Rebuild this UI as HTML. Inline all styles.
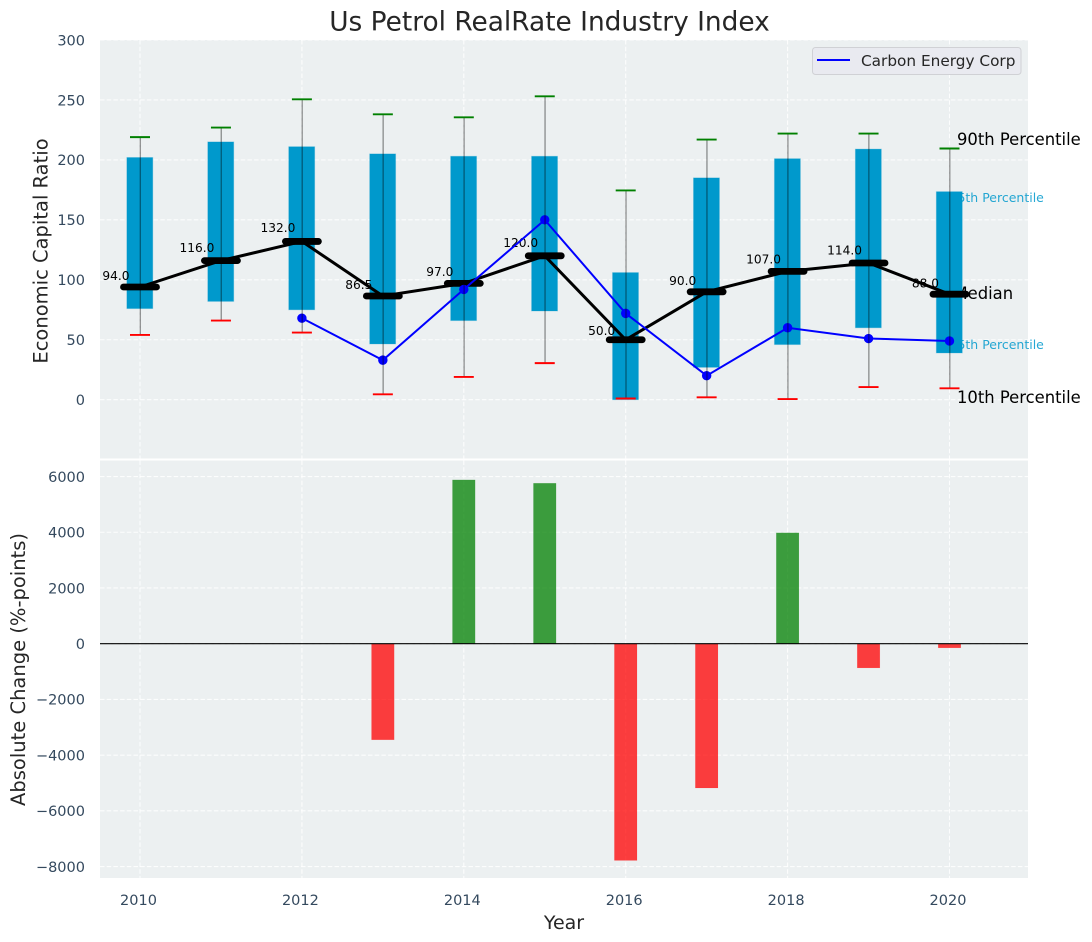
<!DOCTYPE html>
<html>
<head>
<meta charset="utf-8">
<title>Us Petrol RealRate Industry Index</title>
<style>
html,body{margin:0;padding:0;background:#fff;}
svg{display:block;font-family:"DejaVu Sans","Liberation Sans",sans-serif;}
</style>
</head>
<body>
<svg id="chart" width="1092" height="942" viewBox="0 0 1092 942" xmlns="http://www.w3.org/2000/svg">
  <rect x="100" y="40" width="928" height="418.5" fill="#ecf0f1"/>
  <rect x="100" y="460.5" width="928" height="417.5" fill="#ecf0f1"/>
  <g id="grid"></g>
  <g id="annotBack">
    <text x="949.5" y="202" font-size="12.5" fill="#0099cc" fill-opacity="0.85">75th Percentile</text>
    <text x="949.5" y="349" font-size="12.5" fill="#0099cc" fill-opacity="0.85">25th Percentile</text>
    <text x="957" y="145" font-size="16.4" fill="#000">90th Percentile</text>
    <text x="957" y="403" font-size="16.4" fill="#000">10th Percentile</text>
    <text x="953.5" y="299" font-size="16.4" fill="#000">Median</text>
  </g>
  <g id="marks"></g>
  <g id="axes"></g>
  <text x="549.5" y="30.5" text-anchor="middle" font-size="26.4" fill="#262626">Us Petrol RealRate Industry Index</text>
  <text transform="translate(47.5,251) rotate(-90)" text-anchor="middle" font-size="19.5" fill="#262626">Economic Capital Ratio</text>
  <text transform="translate(25,669.5) rotate(-90)" text-anchor="middle" font-size="19.5" fill="#262626">Absolute Change (%-points)</text>
  <text x="564" y="929" text-anchor="middle" font-size="19" fill="#262626">Year</text>
  <g>
    <rect x="812.5" y="47.5" width="208.5" height="27" rx="3" fill="#e9eaf0" stroke="#d0d1d5" stroke-width="1"/>
    <line x1="817" y1="60" x2="850" y2="60" stroke="#0000ff" stroke-width="2"/>
    <text x="861" y="66" font-size="15.3" fill="#262626">Carbon Energy Corp</text>
  </g>
</svg>
<script>
const years = [2010,2011,2012,2013,2014,2015,2016,2017,2018,2019,2020];
const p90 = [219,227,250.5,238,235.5,253,174.5,217,222,222,209.5];
const p10 = [54,66,56,4.5,19,30.5,1,2,0.5,10.5,9.5];
const p75 = [202,215,211,205,203,203,106,185,201,209,173.5];
const p25 = [76,82,75,46.5,66,74,0,27,46,60,39];
const medians = [94,116,132,86.5,97,120,50,90,107,114,88];
const medianLabels = ["94.0","116.0","132.0","86.5","97.0","120.0","50.0","90.0","107.0","114.0","88.0"];
const carbon = [null,null,68,33,92,150,72,20,60,51,49];
const changes = [null,null,null,-3450,5880,5760,-7780,-5180,3980,-870,-150];
const xTicks = [2010,2012,2014,2016,2018,2020];
const upperTicks = [0,50,100,150,200,250,300];
const lowerTicks = [-8000,-6000,-4000,-2000,0,2000,4000,6000];

const NS = 'http://www.w3.org/2000/svg';
const x = v => 140 + (v - 2010) * 80.95;
const yU = v => 399.7 - v * 1.199;
const yL = v => 643.7 - v * 0.02786;
const w = yrs => yrs * 80.95;

function make(parent, tag, attrs, text) {
  const el = document.createElementNS(NS, tag);
  for (const k in attrs) el.setAttribute(k, attrs[k]);
  if (text !== undefined) el.textContent = text;
  parent.appendChild(el);
  return el;
}
const grid = document.getElementById('grid');
const marks = document.getElementById('marks');
const axes = document.getElementById('axes');
const gridStyle = {stroke:'#ffffff','stroke-width':1.1,'stroke-dasharray':'4.5 2.2','stroke-opacity':0.85};

xTicks.forEach(t => {
  const a = make(grid,'line',{x1:x(t),x2:x(t),y1:40,y2:458.5,...gridStyle});
  
  
  const b = make(grid,'line',{x1:x(t),x2:x(t),y1:460.5,y2:878,...gridStyle});
  
  
  const l = make(axes,'text',{x:x(t)-1.5,y:905,'text-anchor':'middle','font-size':14.5,fill:'#34495e'},String(t));
  
  
});
upperTicks.forEach(t => {
  const a = make(grid,'line',{x1:100,x2:1028,y1:yU(t),y2:yU(t),...gridStyle});
  
  
  const l = make(axes,'text',{x:85,y:yU(t)+5.3,'text-anchor':'end','font-size':14.5,fill:'#34495e'},String(t));
  
  
});
lowerTicks.forEach(t => {
  const a = make(grid,'line',{x1:100,x2:1028,y1:yL(t),y2:yL(t),...gridStyle});
  
  
  const l = make(axes,'text',{x:85,y:yL(t)+5.3,'text-anchor':'end','font-size':14.5,fill:'#34495e'},String(t).replace('-','\u2212'));
  
  
});

// interquartile boxes
years.forEach((yr,i) => {
  const r = make(marks,'rect',{x:x(yr)-w(0.16)-0.2,y:yU(p75[i]),width:w(0.32),height:yU(p25[i])-yU(p75[i]),fill:'#0099cc',stroke:'#0099cc','stroke-opacity':0.25,'stroke-width':1});
  
  
});

// median value labels: above the boxes, below the median line
years.forEach((yr,i) => {
  const t = make(marks,'text',{x:x(yr)-24,y:yU(medians[i]*1.05)-1.6,'text-anchor':'middle','font-size':12.2,fill:'#000'},medianLabels[i]);
  
  
});

// median connecting line
const medianPath = make(marks,'polyline',{points:years.map((yr,i)=>x(yr)+','+yU(medians[i])).join(' '),fill:'none',stroke:'#000','stroke-width':3});



years.forEach((yr,i) => {
  const m = make(marks,'line',{x1:x(yr)-16.5,x2:x(yr)+16.5,y1:yU(medians[i]),y2:yU(medians[i]),stroke:'#000','stroke-width':6.8,'stroke-linecap':'round'});
  
  
});

// carbon energy series
const carbonPts = years.map((yr,i)=>carbon[i]===null?null:[x(yr),yU(carbon[i])]).filter(Boolean);
const carbonLine = make(marks,'polyline',{points:carbonPts.map(p=>p.join(',')).join(' '),fill:'none',stroke:'#0000ff','stroke-width':2});


carbonPts.forEach(p => {
  const c = make(marks,'circle',{cx:p[0],cy:p[1],r:4.7,fill:'#0000ff'});
  
  
});

// whiskers and caps
years.forEach((yr,i) => {
  const wh = make(marks,'line',{x1:x(yr)+0.3,x2:x(yr)+0.3,y1:yU(p90[i]),y2:yU(p10[i]),stroke:'#000','stroke-opacity':0.42,'stroke-width':1.3});
  
  
  const top = make(marks,'line',{x1:x(yr)-10,x2:x(yr)+10,y1:yU(p90[i]),y2:yU(p90[i]),stroke:'#008000','stroke-width':1.9});
  
  
  const bot = make(marks,'line',{x1:x(yr)-10,x2:x(yr)+10,y1:yU(p10[i]),y2:yU(p10[i]),stroke:'#ff0000','stroke-width':1.9});
  
  
});

// change bars
years.forEach((yr,i) => {
  if (changes[i] === null) return;
  const y0 = Math.min(yL(0), yL(changes[i]));
  const h = Math.abs(yL(changes[i]) - yL(0));
  const b = make(marks,'rect',{x:x(yr)-w(0.14),y:y0,width:w(0.28),height:h,fill:changes[i]>=0?'#008000':'#ff0000','fill-opacity':0.75,stroke:changes[i]>=0?'#008000':'#ff0000','stroke-opacity':0.1,'stroke-width':0.5});
  
  
});
const zero = make(marks,'line',{x1:100,x2:1028,y1:yL(0),y2:yL(0),stroke:'#000','stroke-width':1.2});


</script>
</body>
</html>
